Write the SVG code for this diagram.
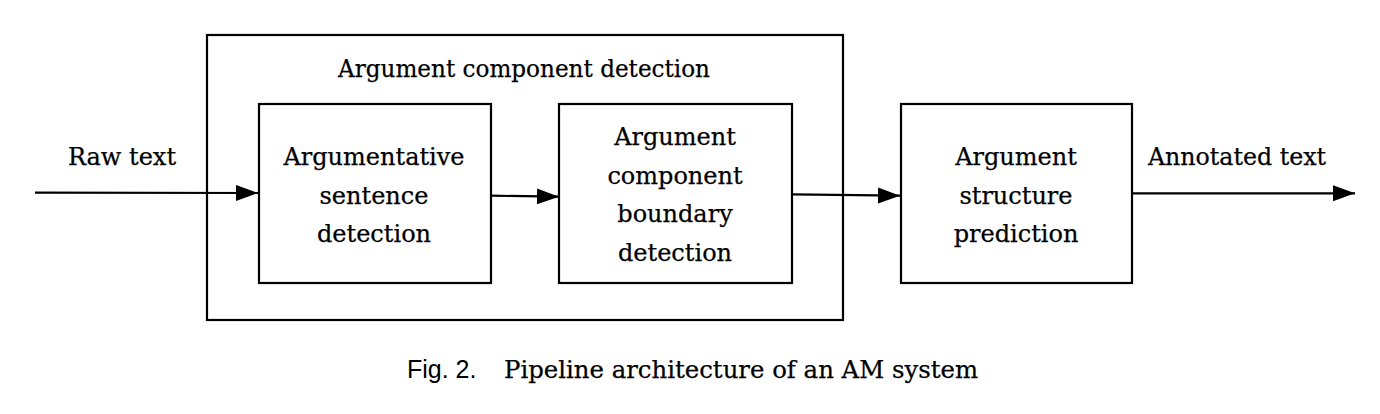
<svg xmlns="http://www.w3.org/2000/svg" width="1380" height="414" viewBox="0 0 1380 414">
<defs>
<marker id="ah" markerUnits="userSpaceOnUse" markerWidth="23" markerHeight="17" refX="22" refY="8" orient="auto">
<path d="M0,0 L22,8 L0,16 Z" fill="#000"/>
</marker>
<style>
.box{fill:none;stroke:#000;stroke-width:2.2}
.t{font-family:"DejaVu Serif","Liberation Serif",serif;font-size:24px;fill:#000;stroke:#000;stroke-width:0.25;text-anchor:middle}
.cap{font-family:"Liberation Sans",Arial,sans-serif;font-size:25px;fill:#000}
.cs{font-family:"DejaVu Serif","Liberation Serif",serif;font-size:24px;fill:#000;stroke:#000;stroke-width:0.25}
.c{fill:none;stroke:#000;stroke-width:2.2}
</style>
</defs>
<rect width="1380" height="414" fill="#fff"/>
<g id="group-acd">
<rect class="box" x="207" y="35" width="636" height="285"/>
<text class="t" x="524" y="77" textLength="372" lengthAdjust="spacingAndGlyphs">Argument component detection</text>
</g>
<g id="node-asd">
<rect class="box" x="259" y="104" width="232" height="179"/>
<text class="t" x="374" y="165">Argumentative</text>
<text class="t" x="374" y="203.5">sentence</text>
<text class="t" x="374" y="242">detection</text>
</g>
<g id="node-acbd">
<rect class="box" x="559" y="104" width="233" height="179"/>
<text class="t" x="675" y="145">Argument</text>
<text class="t" x="675" y="183.5">component</text>
<text class="t" x="675" y="222">boundary</text>
<text class="t" x="675" y="260.5">detection</text>
</g>
<g id="node-asp">
<rect class="box" x="901" y="104" width="231" height="179"/>
<text class="t" x="1016" y="165">Argument</text>
<text class="t" x="1016" y="203.5">structure</text>
<text class="t" x="1016" y="242">prediction</text>
</g>
<g id="connectors">
<line class="c" x1="35" y1="192.7" x2="258" y2="193" marker-end="url(#ah)"/>
<line class="c" x1="491" y1="195.7" x2="559" y2="196.7" marker-end="url(#ah)"/>
<line class="c" x1="792" y1="194.3" x2="900" y2="195.7" marker-end="url(#ah)"/>
<line class="c" x1="1132" y1="193.3" x2="1355" y2="193.3" marker-end="url(#ah)"/>
</g>
<g id="labels">
<text class="t" x="122" y="165">Raw text</text>
<text class="t" x="1237" y="165" textLength="178" lengthAdjust="spacingAndGlyphs">Annotated text</text>
</g>
<g id="caption">
<text class="cap" x="407" y="378">Fig. 2.</text>
<text class="cs" x="504" y="378" textLength="474" lengthAdjust="spacingAndGlyphs">Pipeline architecture of an AM system</text>
</g>
</svg>
